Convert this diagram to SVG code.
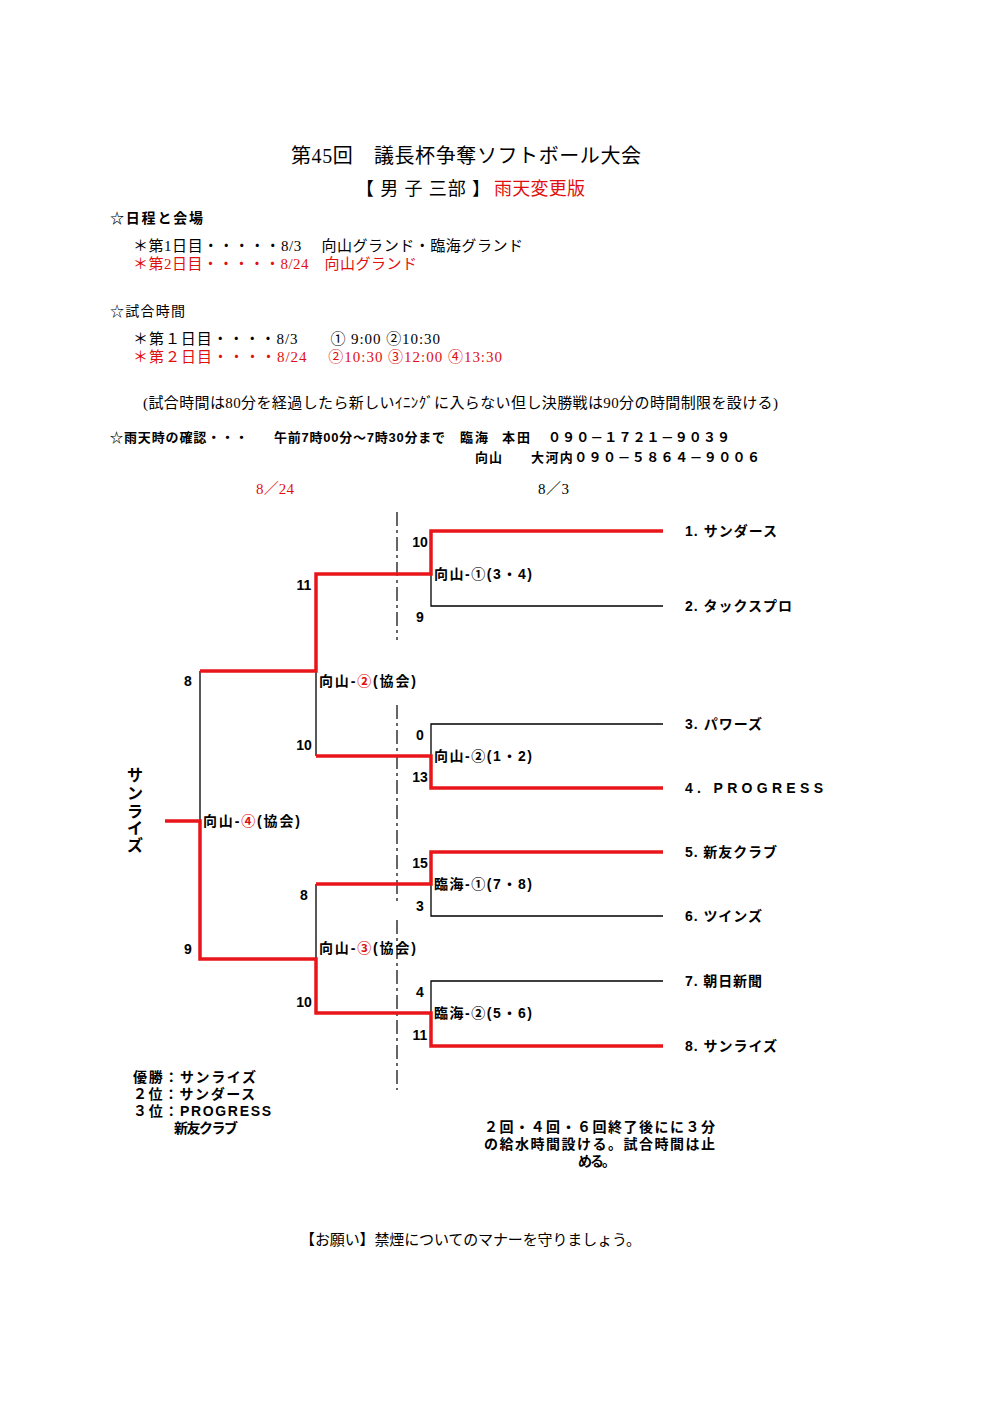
<svg xmlns="http://www.w3.org/2000/svg" width="991" height="1403" viewBox="0 0 991 1403">
<style>
.s{font-family:"Liberation Serif","Noto Sans CJK JP",serif;fill:#000}
.g{font-family:"Liberation Sans","Noto Sans CJK JP",sans-serif;font-weight:bold;fill:#000}
.r{fill:#e01010}
.blk{fill:none;stroke:#000;stroke-width:1.3}
.red{fill:none;stroke:#e8161b;stroke-width:3.5;stroke-linejoin:miter}
.dash{fill:none;stroke:#000;stroke-width:1.2;stroke-dasharray:14,4,3,4}
.team{font-size:14px}
.sc{font-size:14px}
</style>
<rect width="991" height="1403" fill="#fff"/>
<g id="header">
<text class="s" x="291" y="163" font-size="20" textLength="350">第45回　議長杯争奪ソフトボール大会</text>
<text class="s" x="356" y="195" font-size="18" textLength="134">【 男 子 三部 】</text>
<text class="s r" x="494" y="195" font-size="18" textLength="91">雨天変更版</text>
<text class="g" x="110" y="223" font-size="14" textLength="93">☆日程と会場</text>
<text class="s" x="133" y="251" font-size="15" textLength="390">＊第1日目・・・・・8/3　 向山グランド・臨海グランド</text>
<text class="s r" x="133" y="269" font-size="15" textLength="284">＊第2日目・・・・・8/24　向山グランド</text>
<text class="s" x="110" y="316" font-size="14" textLength="75">☆試合時間</text>
<text class="s" x="133" y="344" font-size="15" textLength="307">＊第１日目・・・・8/3　　① 9:00 ②10:30</text>
<text class="s r" x="133" y="362" font-size="15" textLength="369">＊第２日目・・・・8/24　 ②10:30 ③12:00 ④13:30</text>
<text class="s" x="143" y="408" font-size="15" textLength="635">(試合時間は80分を経過したら新しいｲﾆﾝｸﾞに入らない但し決勝戦は90分の時間制限を設ける)</text>
<text class="g" x="110" y="442" font-size="13" textLength="138">☆雨天時の確認・・・</text>
<text class="g" x="274" y="442" font-size="13" textLength="171">午前7時00分～7時30分まで</text>
<text class="g" x="460" y="442" font-size="13" textLength="28">臨海</text>
<text class="g" x="502" y="442" font-size="13" textLength="28">本田</text>
<text class="g" x="548" y="442" font-size="13" textLength="182">０９０－１７２１－９０３９</text>
<text class="g" x="475" y="462" font-size="13" textLength="27">向山</text>
<text class="g" x="531" y="462" font-size="13" textLength="229">大河内０９０－５８６４－９００６</text>
<text class="s r" x="256" y="494" font-size="15" textLength="38">8／24</text>
<text class="s" x="538" y="494" font-size="15" textLength="31">8／3</text>
</g>
<g id="connectors">
<path class="dash" d="M397,512 V640 M397,705 V905 M397,920 V1090"/>
<path class="blk" d="M431,574 V606 H663 M431,756 V724 H663 M316,671 V756 M200,671 V821 M431,884 V916 H663 M431,1013 V981 H663 M316,959 V884"/>
<path class="red" d="M663,531 H431 V574 H316 V671 H200"/>
<path class="red" d="M663,788 H431 V756 H316"/>
<path class="red" d="M663,852 H431 V884 H316"/>
<path class="red" d="M165,821 H200 V959 H316 V1013 H431 V1046 H663"/>
</g>
<g id="teams" class="g team">
<text id="t1" x="685" y="536" textLength="92">1. サンダース</text>
<text id="t2" x="685" y="611" textLength="107">2. タックスプロ</text>
<text id="t3" x="685" y="729" textLength="77">3. パワーズ</text>
<text id="t4" x="685" y="793" textLength="138">4. PROGRESS</text>
<text id="t5" x="685" y="857" textLength="92">5. 新友クラブ</text>
<text id="t6" x="685" y="921" textLength="77">6. ツインズ</text>
<text id="t7" x="685" y="986" textLength="77">7. 朝日新聞</text>
<text id="t8" x="685" y="1051" textLength="92">8. サンライズ</text>
</g>
<g id="matches" class="g" font-size="14">
<text id="m1" x="434" y="579" textLength="98">向山-①(3・4)</text>
<text id="m2" x="434" y="761" textLength="98">向山-②(1・2)</text>
<text id="m3" x="434" y="889" textLength="98">臨海-①(7・8)</text>
<text id="m4" x="434" y="1018" textLength="98">臨海-②(5・6)</text>
<text id="m5" x="319" y="686" textLength="97">向山-<tspan class="r">②</tspan>(協会)</text>
<text id="m6" x="319" y="953" textLength="97">向山-<tspan class="r">③</tspan>(協会)</text>
<text id="m7" x="203" y="826" textLength="97">向山-<tspan class="r">④</tspan>(協会)</text>
</g>
<g id="scores" class="g sc" text-anchor="middle">
<text x="420" y="547">10</text>
<text x="420" y="622">9</text>
<text x="420" y="740">0</text>
<text x="420" y="782">13</text>
<text x="420" y="868">15</text>
<text x="420" y="911">3</text>
<text x="420" y="997">4</text>
<text x="420" y="1040">11</text>
<text x="304" y="590">11</text>
<text x="304" y="750">10</text>
<text x="304" y="900">8</text>
<text x="304" y="1007">10</text>
<text x="188" y="686">8</text>
<text x="188" y="954">9</text>
</g>
<g id="champion" class="g" font-size="16" text-anchor="middle">
<text x="135" y="781">サ</text>
<text x="135" y="799">ン</text>
<text x="135" y="817">ラ</text>
<text x="135" y="834">イ</text>
<text x="135" y="851">ズ</text>
</g>
<g id="results" class="g" font-size="14">
<text x="133" y="1082" textLength="123">優勝：サンライズ</text>
<text x="133" y="1099" textLength="122">２位：サンダース</text>
<text x="133" y="1116" textLength="138">３位：PROGRESS</text>
<text x="174" y="1133" textLength="64">新友クラブ</text>
</g>
<g id="note" class="g" font-size="14">
<text x="484" y="1132" textLength="231">２回・４回・６回終了後にに３分</text>
<text x="484" y="1149" textLength="231">の給水時間設ける。試合時間は止</text>
<text x="578" y="1166" textLength="38">める。</text>
</g>
<text class="s" x="300" y="1245" font-size="15" textLength="341">【お願い】禁煙についてのマナーを守りましょう。</text>
</svg>
